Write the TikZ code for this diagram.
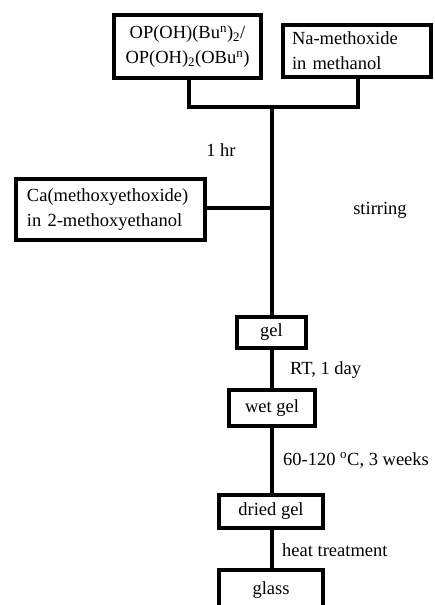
\documentclass[tikz,border=0pt]{standalone}
\usepackage{fontspec}
\setmainfont{Liberation Serif}
\begin{document}
\begin{tikzpicture}[x=1pt,y=-1pt,
  box/.style={draw=black,line width=4pt,inner sep=0pt,font=\fontsize{18.5}{25}\selectfont},
  lbl/.style={inner sep=0pt,font=\fontsize{18.5}{25}\selectfont},
  wire/.style={line width=4pt}]
\useasboundingbox (0,0) rectangle (435,605);
\fill[white] (0,0) rectangle (435,605);
\node[box,minimum width=147pt,minimum height=63pt,align=center] (op) at (187.5,46.5)
  {OP(OH)(Bu\textsuperscript{n})\textsubscript{2}/\\OP(OH)\textsubscript{2}(OBu\textsuperscript{n})};
\node[box,minimum width=148pt,minimum height=52pt,align=left,text width=130pt] (na) at (357,51)
  {Na-methoxide\\in methanol};
\coordinate (j1) at (189,107);
\coordinate (j2) at (358,107);
\coordinate (jm) at (272,107);
\node[box,minimum width=189pt,minimum height=61pt,align=left,text width=167pt] (ca) at (110.5,209.5)
  {Ca(methoxyethoxide)\\in 2-methoxyethanol};
\coordinate (jc) at (272,208);
\node[box,minimum width=69pt,minimum height=31pt] (gel) at (271.5,332.5) {gel};
\node[box,minimum width=86pt,minimum height=36pt] (wet) at (272,408) {wet gel};
\node[box,minimum width=104pt,minimum height=33pt] (dried) at (271,511.5) {dried gel};
\node[box,minimum width=104pt,minimum height=40pt] (glass) at (271,590) {glass};
\draw[wire] (op.south -| j1) -- (j1) -- (j2) -- (na.south -| j2);
\draw[wire] (jm) -- (gel.north -| jm);
\draw[wire] (ca.east |- jc) -- (jc);
\draw[wire] (gel.south -| jm) -- (wet.north -| jm);
\draw[wire] (wet.south -| jm) -- (dried.north -| jm);
\draw[wire] (dried.south -| jm) -- (glass.north -| jm);
\node[lbl] (t1) at (221,150) {1 hr};
\node[lbl] (t2) at (380,210) {stirring};
\node[lbl,anchor=west] (t3) at (290,370) {RT, 1 day};
\node[lbl,anchor=west] (t4) at (283,460) {60-120 \textsuperscript{o}C, 3 weeks};
\node[lbl,anchor=west] (t5) at (282,550) {heat treatment};
\end{tikzpicture}
\end{document}
